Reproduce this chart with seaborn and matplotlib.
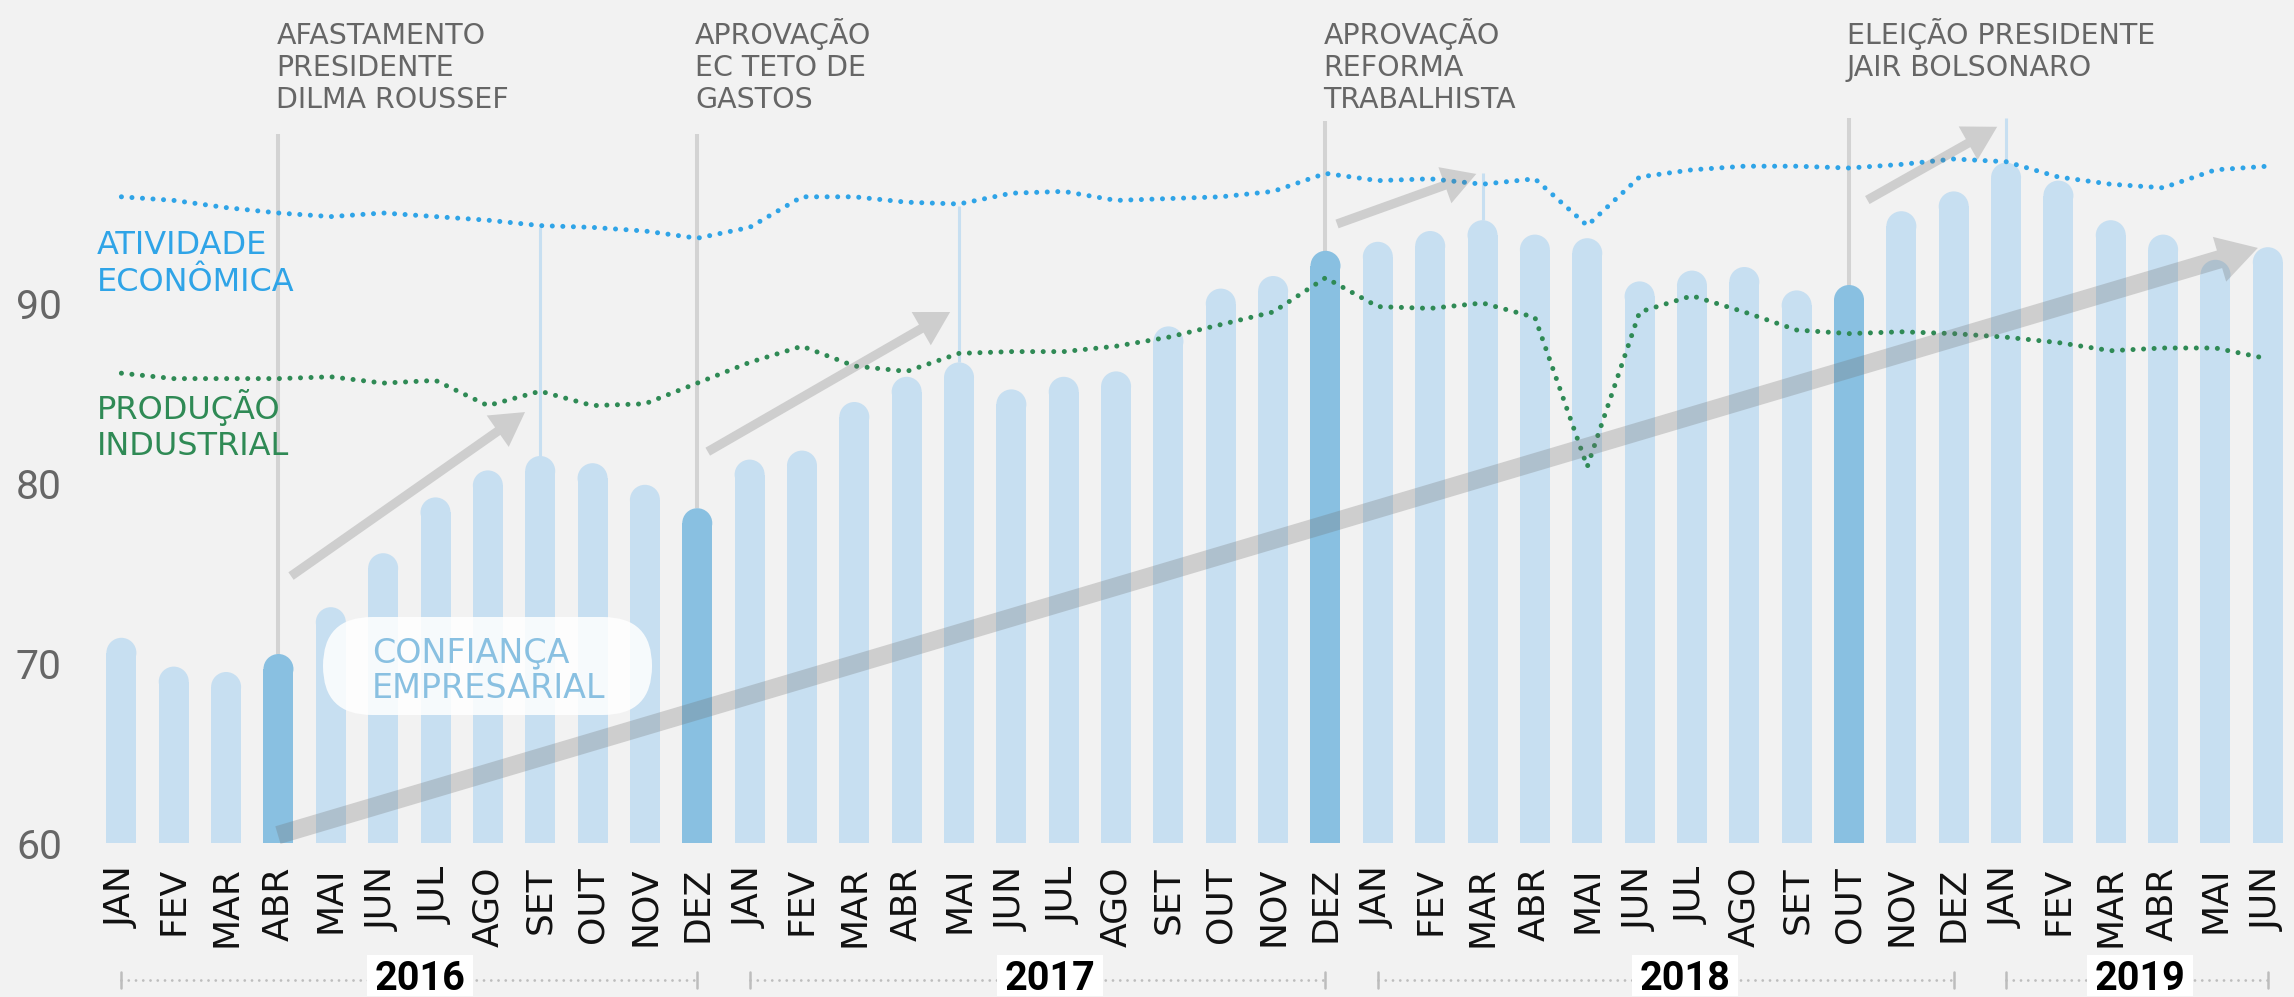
"""Confiança empresarial vs atividade econômica e produção industrial, 2016-2019."""

import matplotlib

matplotlib.use("Agg")
import matplotlib.pyplot as plt
from matplotlib.patches import FancyBboxPatch, Rectangle
import pandas as pd
import seaborn as sns

months = ["JAN", "FEV", "MAR", "ABR", "MAI", "JUN", "JUL", "AGO", "SET", "OUT", "NOV", "DEZ"]
month_labels = months * 3 + months[:6]
years = ["2016", "2017", "2018", "2019"]
year_ranges = [(0, 11), (12, 23), (24, 35), (36, 41)]

confianca = [71.4, 69.8, 69.5, 70.5, 73.1, 76.1, 79.2, 80.7, 81.5, 81.1, 79.9, 78.6,
             81.3, 81.8, 84.5, 85.9, 86.7, 85.2, 85.9, 86.2, 88.7, 90.8, 91.5, 92.9,
             93.4, 94.0, 94.6, 93.8, 93.6, 91.2, 91.8, 92.0, 90.7, 91.0, 95.1, 96.2,
             97.8, 96.8, 94.6, 93.8, 92.4, 93.1]
atividade = [95.9, 95.7, 95.3, 95.0, 94.8, 95.0, 94.8, 94.6, 94.3, 94.2, 94.0, 93.6,
             94.2, 95.9, 95.9, 95.6, 95.5, 96.1, 96.2, 95.7, 95.8, 95.9, 96.2, 97.2,
             96.8, 96.9, 96.6, 96.9, 94.3, 97.0, 97.4, 97.6, 97.6, 97.5, 97.7, 98.0,
             97.85, 97.0, 96.6, 96.4, 97.4, 97.6]
producao = [86.1, 85.8, 85.8, 85.8, 85.9, 85.55, 85.7, 84.3, 85.1, 84.3, 84.4, 85.55,
            86.7, 87.6, 86.5, 86.2, 87.2, 87.3, 87.3, 87.6, 88.1, 88.8, 89.5, 91.4,
            89.8, 89.7, 90.0, 89.2, 80.9, 89.5, 90.4, 89.5, 88.5, 88.3, 88.4, 88.3,
            88.1, 87.8, 87.35, 87.5, 87.5, 86.9]

event_idx = [3, 11, 23, 33]
event_top = [99.4, 99.4, 100.1, 100.3]
event_text = [
    ["AFASTAMENTO", "PRESIDENTE", "DILMA ROUSSEF"],
    ["APROVAÇÃO", "EC TETO DE", "GASTOS"],
    ["APROVAÇÃO", "REFORMA", "TRABALHISTA"],
    ["ELEIÇÃO PRESIDENTE", "JAIR BOLSONARO"],
]
peak_idx = [8, 16, 26, 36]
peak_top = [94.2, 95.4, 97.2, 100.3]

BG = "#f2f2f2"
LIGHT = "#c7dff1"
DARK = "#89c0e1"
BLUE = "#2fa4e7"
GREEN = "#2f8a55"
GREY_TXT = "#666666"
NARROW = ["Roboto", "DejaVu Sans"]

W, H = 2294, 997
X0, PX_X = 121.4, 52.35   # pixel of first bar, pixels per month
Y60, PX_Y = 843, 18.0      # pixel of value 60, pixels per unit


def xd(px):
    return (px - X0) / PX_X


def yd(px):
    return 60 + (Y60 - px) / PX_Y


sns.set_theme(style="white")
plt.rcParams["font.family"] = ["DejaVu Sans"]

fig = plt.figure(figsize=(W / 100, H / 100), dpi=100, facecolor=BG)
ax = fig.add_axes([(X0 - PX_X / 2) / W, (H - Y60) / H, 1 - (X0 - PX_X / 2) / W, Y60 / H])
ax.set_facecolor(BG)

n = len(confianca)
cap_r = 15 / PX_Y
df = pd.DataFrame({
    "idx": range(n),
    "valor": confianca,
    "corpo": [v - cap_r for v in confianca],
    "destaque": ["sim" if i in event_idx else "nao" for i in range(n)],
})
palette = {"sim": DARK, "nao": LIGHT}
sns.barplot(data=df, x="idx", y="corpo", hue="destaque", palette=palette, dodge=False,
            width=30 / PX_X, saturation=1, linewidth=0, legend=False, ax=ax, zorder=1)
ax.scatter(df["idx"], df["corpo"], s=(30 * 72 / 100) ** 2, c=df["destaque"].map(palette),
           linewidths=0, zorder=1.1)

# event markers
for i, top in zip(event_idx, event_top):
    ax.plot([i, i], [confianca[i], top], color="#d3d3d3", lw=2.9, zorder=0.9,
            solid_capstyle="butt")
for i, top in zip(peak_idx, peak_top):
    ax.plot([i, i], [confianca[i], top], color=LIGHT, lw=2.2, zorder=0.9,
            solid_capstyle="butt")

lines = pd.DataFrame({"idx": range(n), "atividade": atividade, "producao": producao})
for col, color in [("atividade", BLUE), ("producao", GREEN)]:
    sns.lineplot(data=lines, x="idx", y=col, color=color, lw=3.6, ax=ax, zorder=3)
    ln = ax.lines[-1]
    ln.set_linestyle((0, (0.01, 2.1)))
    ln.set_dash_capstyle("round")

# trend arrows
arrows = [
    ((3.24, 74.83), (7.71, 83.94), 1.0),
    ((11.20, 81.74), (15.83, 89.5), 1.0),
    ((23.22, 94.39), (25.88, 97.17), 1.0),
    ((33.35, 95.72), (35.83, 99.79), 1.0),
    ((2.99, 60.44), (40.81, 93.06), 2.0),
]
for start, tip, k in arrows:
    if k > 1:
        style = "simple,head_length=2.4,head_width=2.8,tail_width=1.1"
    else:
        style = "simple,head_length=2.0,head_width=2.3,tail_width=0.55"
    ax.annotate("", xy=tip, xytext=start,
                arrowprops=dict(arrowstyle=style, mutation_scale=12, fc="#6e6e6e",
                                ec="none", alpha=0.27, shrinkA=0, shrinkB=0),
                zorder=4)

# event texts
for i, txt in zip(event_idx, event_text):
    for k, line in enumerate(txt):
        ax.text(i - 0.04, yd(44 + 32 * k), line, fontsize=20.5, color=GREY_TXT,
                ha="left", va="baseline", zorder=6)

# series labels
for line, base in [("ATIVIDADE", 254), ("ECONÔMICA", 291)]:
    ax.text(xd(97), yd(base), line, fontsize=23, color=BLUE, ha="left", va="baseline")
for line, base in [("PRODUÇÃO", 419), ("INDUSTRIAL", 455)]:
    ax.text(xd(97), yd(base), line, fontsize=23, color=GREEN, ha="left", va="baseline")

box = FancyBboxPatch((xd(323), yd(715)), xd(652) - xd(323), yd(617) - yd(715),
                     boxstyle=f"round,pad=0,rounding_size={49 / PX_X}",
                     mutation_aspect=PX_X / PX_Y, fc="white", ec="none", alpha=0.85,
                     zorder=5)
ax.add_patch(box)
for line, base in [("CONFIANÇA", 662), ("EMPRESARIAL", 698)]:
    ax.text(xd(372), yd(base), line, fontsize=24, color=DARK, ha="left",
            va="baseline", zorder=6)

# year brackets
yb = yd(980)
year_x = [5.70, 17.73, 29.87, 38.55]
for (a, b), label, xc in zip(year_ranges, years, year_x):
    ax.plot([a, b], [yb, yb], color="#bdbdbd", lw=2, linestyle=(0, (0.01, 2.6)),
            dash_capstyle="round", clip_on=False)
    for e in (a, b):
        ax.plot([e, e], [yb - 0.45, yb + 0.45], color="#bdbdbd", lw=1.8, clip_on=False)
    ax.add_patch(Rectangle((xc - 53 / PX_X, yd(996)), 106 / PX_X, (996 - 955) / PX_Y,
                           fc="white", ec="none", clip_on=False, zorder=5))
    ax.text(xc, yd(990), label, family=NARROW, fontweight="bold", fontsize=28.5,
            color="black", ha="center", va="baseline", zorder=6)

ax.set_xlim(-0.5, n - 0.5)
ax.set_ylim(60, 60 + Y60 / PX_Y)
ax.set_xticks(range(n))
ax.set_xticklabels(month_labels, rotation=90, fontsize=26, color="#111111")
ax.set_yticks([60, 70, 80, 90])
ax.set_yticklabels(["60", "70", "80", "90"], family=NARROW, fontweight="normal",
                   fontsize=29.5, color=GREY_TXT)
ax.tick_params(axis="x", length=0, pad=17)
ax.tick_params(axis="y", length=0, pad=24)
ax.set_xlabel("")
ax.set_ylabel("")
sns.despine(ax=ax, left=True, bottom=True)

fig.savefig("out.png", dpi=100, facecolor=BG)
